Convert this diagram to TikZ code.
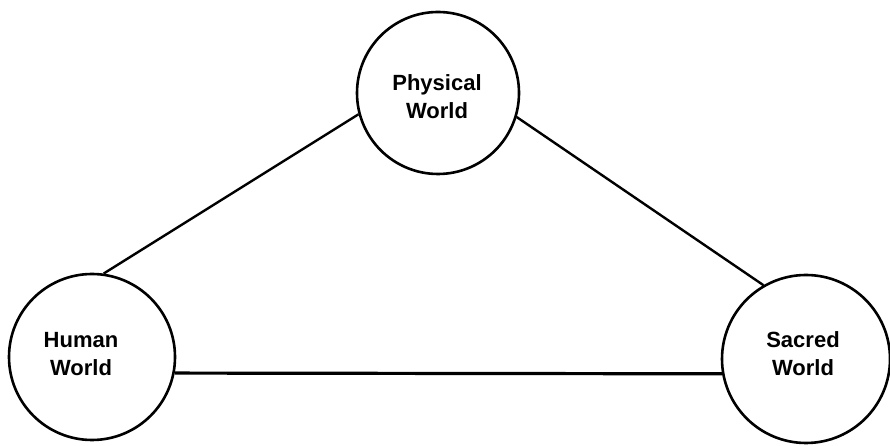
\documentclass[tikz,border=0pt]{standalone}
\usepackage{fontspec}
\setmainfont{Liberation Sans}
\begin{document}
\begin{tikzpicture}[x=1pt,y=1pt,
  world/.style={circle,draw=black,line width=2.6pt,minimum size=#1,inner sep=0pt},
  lbl/.style={font=\fontsize{22}{28}\selectfont\bfseries,align=center,text=black},
  link/.style={draw=black,line width=2.4pt}]
\useasboundingbox (0,0) rectangle (890,446);
\node[world=162pt] (phys) at (438,353) {};
\node[world=166pt] (human) at (92,89) {};
\node[world=168pt] (sacred) at (806,87) {};
\node[lbl] (physt) at (437,349) {Physical\\World};
\node[lbl] (humant) at (81,92) {Human\\World};
\node[lbl] (sacredt) at (803,92) {Sacred\\World};
\draw[link] (phys.195) -- (human.82);
\draw[link] (phys.343) -- (sacred.120);
\draw[link,line width=3.2pt] (human.349) -- (sacred.190);
\end{tikzpicture}
\end{document}
